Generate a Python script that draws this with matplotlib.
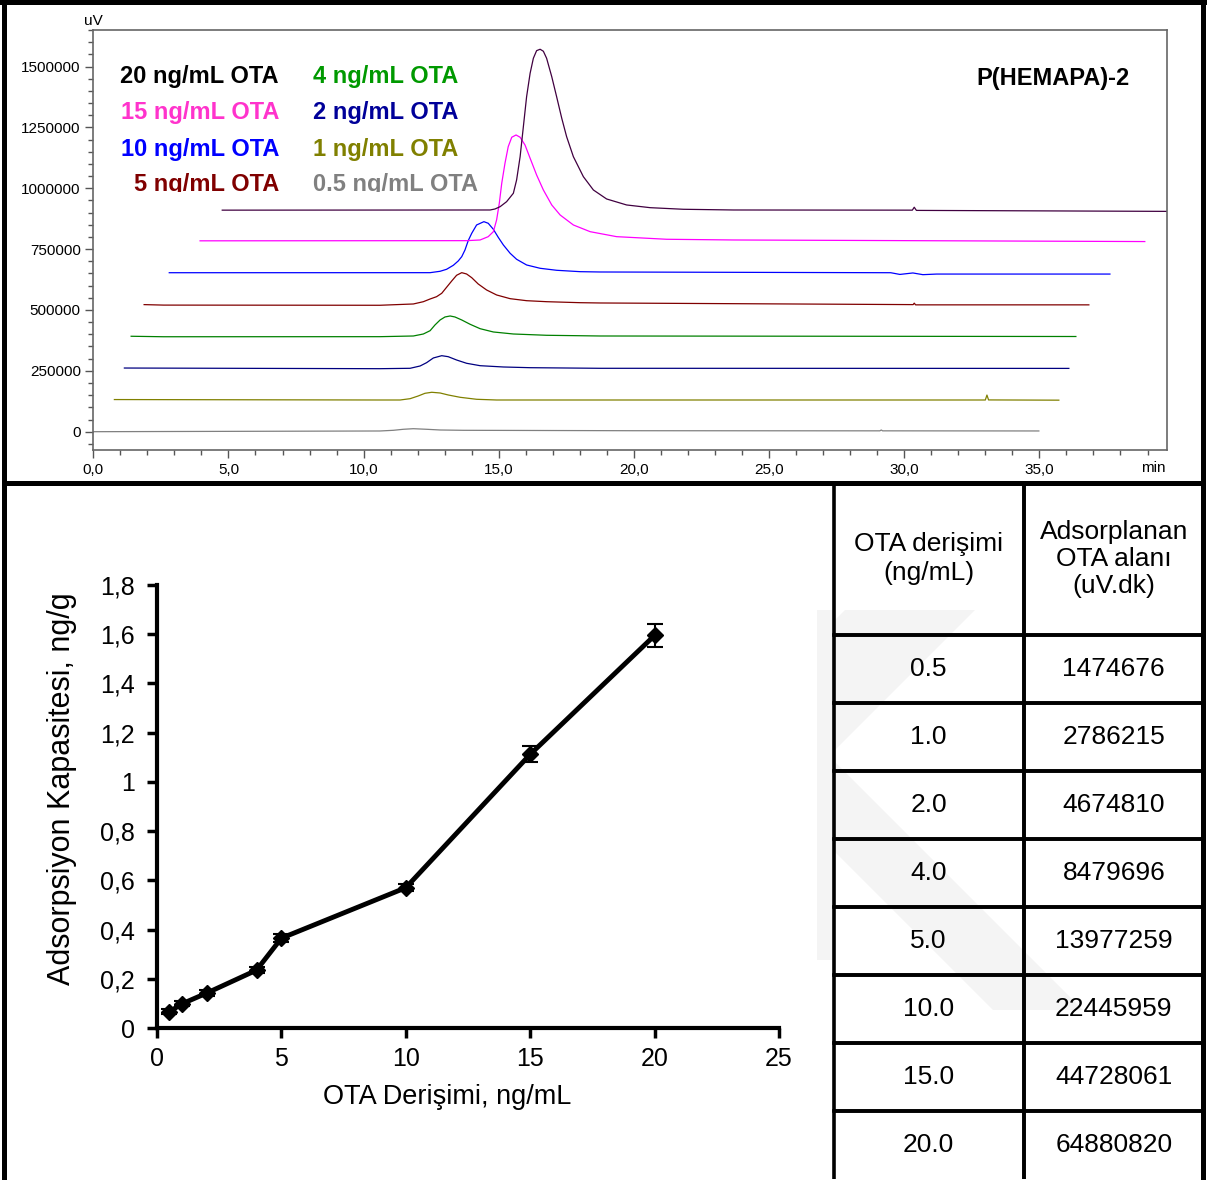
import matplotlib
matplotlib.use('Agg')
import matplotlib.pyplot as plt
import numpy as np
from matplotlib.lines import Line2D
from matplotlib.patches import Polygon
from matplotlib.ticker import MultipleLocator
from matplotlib.transforms import Bbox, TransformedBbox

plt.rcParams['font.family'] = ['Liberation Sans', 'DejaVu Sans']

# ---- chromatograms (time in min, signal in uV, as displayed / stacked) ----
t_05 = [0.0, 10.60, 11.10, 11.47, 11.84, 12.33, 12.83, 13.69, 20.0, 29.10, 29.15, 29.20, 34.98]
s_05 = [0, 2900, 5700, 9900, 12300, 9900, 7000, 5700, 4000, 3500, 7000, 3500, 3000]

t_1 = [0.78, 10.60, 11.35, 11.72, 12.02, 12.27, 12.52, 12.83, 13.13, 13.57, 14.18, 14.92, 33.0, 33.06, 33.12, 35.72]
s_1 = [132000, 130200, 130200, 135600, 146700, 157700, 161900, 159000, 150800, 141300, 133100, 130200,
       130200, 150500, 130500, 129500]

t_2 = [1.15, 10.60, 11.72, 12.09, 12.33, 12.58, 12.89, 13.13, 13.44, 13.81, 14.31, 15.17, 16.16, 18.75, 36.09]
s_2 = [261500, 258800, 260400, 269900, 283500, 302800, 312200, 308100, 294500, 281000, 271100, 265800,
       262900, 260400, 260000]

t_4 = [1.40, 2.6, 10.60, 11.84, 12.21, 12.46, 12.64, 12.83, 13.01, 13.20, 13.38, 13.63, 13.94, 14.31, 14.80,
       15.54, 16.77, 18.75, 36.35]
s_4 = [392000, 390000, 390300, 393100, 401300, 414900, 438300, 458900, 471200, 475300, 471200, 458900, 441200,
       423100, 409600, 401300, 396000, 393100, 391000]

t_5 = [1.88, 2.6, 10.60, 11.84, 12.21, 12.46, 12.70, 12.89, 13.07, 13.26, 13.44, 13.63, 13.81, 14.00, 14.24,
       14.55, 14.92, 15.42, 16.03, 16.77, 18.01, 18.75, 30.33, 30.37, 30.42, 36.83]
s_5 = [522000, 520000, 519300, 524600, 534000, 545100, 554600, 568500, 593200, 619100, 642500, 653200, 647800,
       632600, 606700, 582100, 561600, 546400, 538100, 534000, 529900, 528700, 522000, 528000, 521000, 521000]

t_10 = [2.81, 12.46, 12.83, 13.07, 13.32, 13.50, 13.63, 13.75, 13.87, 14.00, 14.18, 14.45, 14.61, 14.80, 14.98,
        15.17, 15.42, 15.66, 16.03, 16.53, 17.14, 18.01, 18.75, 29.5, 29.84, 30.32, 30.69, 31.2, 37.61]
s_10 = [653000, 653200, 658900, 667100, 683600, 701200, 718900, 746400, 784700, 815000, 849100, 862700, 856100,
        831400, 798600, 767000, 732900, 708200, 684800, 671200, 663000, 657300, 656000, 653000, 646000, 652000,
        645000, 647500, 647500]

t_15 = [3.95, 13.81, 14.31, 14.61, 14.80, 14.92, 15.02, 15.11, 15.23, 15.35, 15.48, 15.64, 15.79, 15.97, 16.16,
        16.40, 16.65, 16.96, 17.27, 17.76, 18.38, 19.36, 21.21, 23.68, 38.90]
s_15 = [784000, 784700, 787500, 801100, 821600, 869700, 938300, 1020400, 1102600, 1170800, 1209400, 1218800,
        1209400, 1177800, 1123100, 1054500, 992900, 931300, 890200, 849100, 821600, 801100, 790400, 787500, 781000]

t_20 = [4.77, 14.68, 14.86, 15.05, 15.29, 15.54, 15.66, 15.79, 15.91, 16.03, 16.16, 16.28, 16.40, 16.53, 16.65,
        16.77, 16.96, 17.14, 17.33, 17.51, 17.76, 18.13, 18.50, 18.99, 19.73, 20.60, 21.83, 23.68, 30.30, 30.37,
        30.45, 39.71]
s_20 = [910000, 910700, 914800, 924300, 944800, 979400, 1034000, 1129700, 1252900, 1376200, 1472300, 1533900,
        1565200, 1570900, 1562700, 1533900, 1458300, 1376200, 1287500, 1211900, 1129700, 1047500, 992900, 955900,
        931300, 920200, 913600, 910700, 910000, 922000, 909000, 905000]

trace_colors = ['#808080', '#808000', '#000080', '#008000', '#800000', '#0000ff', '#ff00ff', '#400040']

legend_left = ['20 ng/mL OTA', '15 ng/mL OTA', '10 ng/mL OTA', '5 ng/mL OTA']
legend_left_colors = ['#000000', '#ff33cc', '#0000ff', '#800000']
legend_right = ['4 ng/mL OTA', '2 ng/mL OTA', '1 ng/mL OTA', '0.5 ng/mL OTA']
legend_right_colors = ['#009900', '#000099', '#808000', '#808080']

# ---- adsorption capacity ----
conc = [0.5, 1, 2, 4, 5, 10, 15, 20]
capacity = [0.066, 0.098, 0.142, 0.235, 0.365, 0.570, 1.112, 1.595]
cap_err = [0.010, 0.010, 0.012, 0.012, 0.015, 0.015, 0.033, 0.047]

# ---- table ----
table_header = ['OTA derişimi\n(ng/mL)', 'Adsorplanan\nOTA alanı\n(uV.dk)']
table_conc = ['0.5', '1.0', '2.0', '4.0', '5.0', '10.0', '15.0', '20.0']
table_area = ['1474676', '2786215', '4674810', '8479696', '13977259', '22445959', '44728061', '64880820']

W, H = 1207, 1180


def fx(x):
    return x / W


def fy(y):
    return 1 - y / H


fig = plt.figure(figsize=(W / 100, H / 100), dpi=100)

# faint watermark behind the table
wm_color = '#f4f4f4'
for pts in ([(817, 610), (835, 610), (835, 960), (817, 960)],
            [(845, 610), (975, 610), (835, 750), (835, 620)],
            [(835, 762), (1083, 1010), (993, 1010), (835, 852)]):
    fig.add_artist(Polygon([(fx(a), fy(b)) for a, b in pts], closed=True,
                           transform=fig.transFigure, facecolor=wm_color, edgecolor='none', zorder=-5))

# ================= top: chromatograms =================
ax1 = fig.add_axes([fx(93.3), fy(450), fx(1166.7) - fx(93.3), fy(30) - fy(450)])
all_t = [t_05, t_1, t_2, t_4, t_5, t_10, t_15, t_20]
all_s = [s_05, s_1, s_2, s_4, s_5, s_10, s_15, s_20]
for t, s, c in zip(all_t, all_s, trace_colors):
    ax1.plot(t, s, color=c, lw=0.9, solid_joinstyle='round')

ax1.set_xlim(0, 39.71)
ax1.set_ylim(-75200, 1650000)
xt = np.arange(0, 36, 5)
ax1.set_xticks(xt)
ax1.set_xticklabels([f'{v:.1f}'.replace('.', ',') for v in xt])
ax1.xaxis.set_minor_locator(MultipleLocator(1))
yt = np.arange(0, 1500001, 250000)
ax1.set_yticks(yt)
ax1.set_yticklabels([str(v) for v in yt])
ax1.yaxis.set_minor_locator(MultipleLocator(50000))
ax1.tick_params(which='major', direction='out', length=6, width=1, color='#555555',
                labelsize=11, pad=3)
ax1.tick_params(which='minor', direction='out', length=3.5, width=1, color='#555555')
for sp in ax1.spines.values():
    sp.set_color('#666666')
    sp.set_linewidth(1.2)

fig.text(fx(84), fy(25), 'uV', fontsize=11, ha='left', va='baseline')
fig.text(fx(1166), fy(468), 'min', fontsize=11, ha='right', va='center')

row_base = [0.873, 0.788, 0.7007, 0.6174]
clip = TransformedBbox(Bbox([[0, 0.6143], [1, 1]]), ax1.transAxes)
for lbl, col, yb in zip(legend_left, legend_left_colors, row_base):
    tx = ax1.text(0.173, yb, lbl, color=col, fontsize=17, fontweight='bold',
                  ha='right', va='baseline', transform=ax1.transAxes, clip_on=True)
    tx.set_clip_box(clip)
for lbl, col, yb in zip(legend_right, legend_right_colors, row_base):
    tx = ax1.text(0.2047, yb, lbl, color=col, fontsize=17, fontweight='bold',
                  ha='left', va='baseline', transform=ax1.transAxes, clip_on=True)
    tx.set_clip_box(clip)
ax1.text(0.9658, 0.869, 'P(HEMAPA)-2', fontsize=17, fontweight='bold', ha='right',
         va='baseline', transform=ax1.transAxes)

# ================= bottom left: capacity =================
ax2 = fig.add_axes([fx(157), fy(1028), fx(779) - fx(157), fy(585) - fy(1028)])
ax2.errorbar(conc, capacity, yerr=cap_err, color='black', lw=3.5, marker='D', ms=8,
             capsize=6, elinewidth=1.5, capthick=1.5, clip_on=False, zorder=3)
ax2.set_xlim(0, 25)
ax2.set_ylim(0, 1.8)
ax2.set_xticks(np.arange(0, 26, 5))
yt2 = [round(v, 1) for v in np.arange(0, 1.81, 0.2)]
ax2.set_yticks(yt2)
ax2.set_yticklabels([f'{v:g}'.replace('.', ',') for v in yt2])
for side in ('top', 'right'):
    ax2.spines[side].set_visible(False)
for side in ('left', 'bottom'):
    ax2.spines[side].set_linewidth(3)
    ax2.spines[side].set_color('black')
ax2.tick_params(direction='out', length=7, width=2.5, labelsize=18)
ax2.tick_params(axis='y', pad=9)
ax2.tick_params(axis='x', pad=7)
ax2.set_xlabel('OTA Derişimi, ng/mL', fontsize=19.5)
ax2.xaxis.set_label_coords(0.466, -0.126)
ax2.set_ylabel('Adsorpsiyon Kapasitesi, ng/g', fontsize=22)
ax2.yaxis.set_label_coords(-0.128, 0.5395)

# ================= bottom right: table =================
ax3 = fig.add_axes([fx(833.5), fy(1179), fx(1204) - fx(833.5), fy(482.5) - fy(1179)])
ax3.axis('off')
tbl = ax3.table(cellText=[[c, a] for c, a in zip(table_conc, table_area)],
                colLabels=table_header, cellLoc='center', bbox=[0, 0, 1, 1])
tbl.auto_set_font_size(False)
tbl.set_fontsize(19)
total_h = 152.5 + 8 * 68
nrows = len(table_conc) + 1
for (r, c), cell in tbl.get_celld().items():
    cell.set_height((152.5 if r == 0 else 68) / total_h)
    cell.set_width((190 if c == 0 else 180.5) / 370.5)
    cell.set_facecolor('none')
    cell.set_edgecolor('black')
    cell.set_linewidth(2.6)
    cell.get_text().set_linespacing(1.15 if c == 1 else 1.25)
    if r == nrows - 1:
        cell.visible_edges = 'LRT'

# ================= frame lines =================
frame_lw = 3.6
for (x0, y0, x1, y1) in [(4, 0, 4, 1180), (0, 2, 1207, 2), (1203, 0, 1203, 1180), (4, 482.5, 1203, 482.5)]:
    fig.add_artist(Line2D([fx(x0), fx(x1)], [fy(y0), fy(y1)], transform=fig.transFigure,
                          color='black', lw=frame_lw, zorder=10))

fig.savefig('out.png', dpi=100)
